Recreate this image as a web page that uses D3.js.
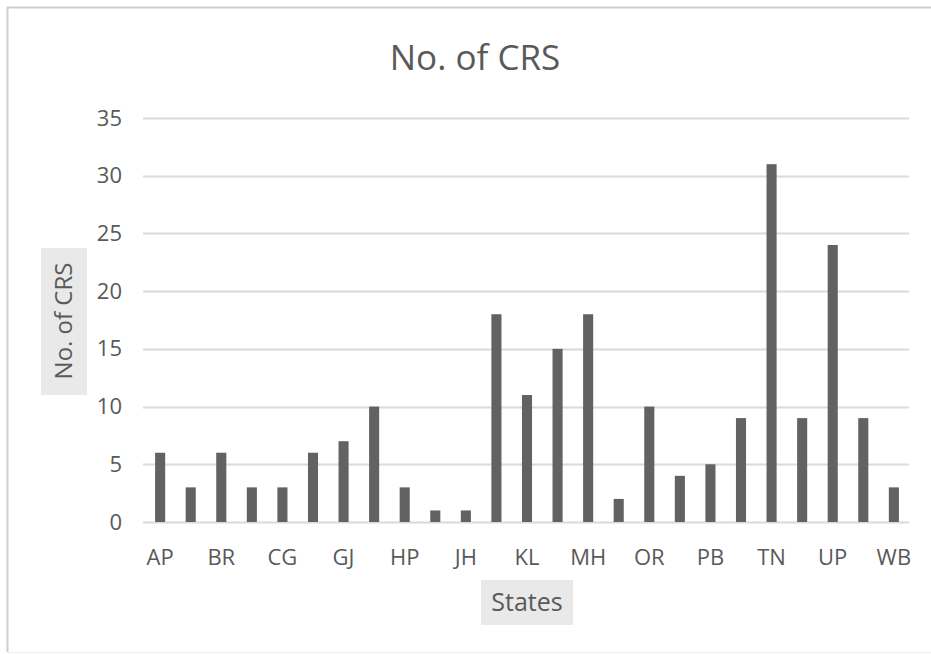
<!DOCTYPE html>
<html>
<head>
<meta charset="utf-8">
<script src="https://cdn.jsdelivr.net/npm/d3@7"></script>
<style>
  body { margin: 0; background: #fff; }
  svg text { font-family: "Open Sans", sans-serif; fill: #595959; }
</style>
</head>
<body>
<div id="chart"></div>
<script>
// States on the x axis (every other one gets a tick label)
var states = ["AP", "AS", "BR", "CH", "CG", "DL", "GJ", "HR", "HP", "JK", "JH", "KA", "KL",
  "MP", "MH", "MN", "OR", "PY", "PB", "RJ", "TN", "TS", "UP", "UK", "WB"];
var crsCounts = [6, 3, 6, 3, 3, 6, 7, 10, 3, 1, 1, 18, 11, 15, 18, 2, 10, 4, 5, 9, 31, 9, 24, 9, 3];
var yTicks = [0, 5, 10, 15, 20, 25, 30, 35];

var width = 931,
  height = 654,
  margin = { top: 118, right: 22, bottom: 132, left: 145 },
  plotW = width - margin.left - margin.right,
  plotH = height - margin.top - margin.bottom;

var svg = d3.select("#chart").append("svg")
  .attr("width", width)
  .attr("height", height);

// frame of the pasted chart
svg.append("line").attr("x1", 7).attr("x2", 931).attr("y1", 7.5).attr("y2", 7.5)
  .style("stroke", "#cfcfcf").style("stroke-width", 2);
svg.append("line").attr("x1", 7.5).attr("x2", 7.5).attr("y1", 7).attr("y2", 652)
  .style("stroke", "#cfcfcf").style("stroke-width", 2);
svg.append("line").attr("x1", 7).attr("x2", 931).attr("y1", 652.5).attr("y2", 652.5)
  .style("stroke", "#eeeeee");

var x = d3.scaleBand().domain(states).range([0, plotW]).paddingInner(0.67).paddingOuter(0.33),
  y = d3.scaleLinear().domain([0, 35]).range([plotH, 0]);

var g = svg.append("g")
  .attr("transform", "translate(" + margin.left + "," + margin.top + ")");

// gridlines
g.selectAll(".grid")
  .data(yTicks)
  .enter().append("line")
  .attr("class", "grid")
  .attr("x1", -2)
  .attr("x2", plotW)
  .attr("y1", function(d) { return Math.round(y(d)) + 0.5; })
  .attr("y2", function(d) { return Math.round(y(d)) + 0.5; })
  .style("stroke", "#dadada")
  .style("stroke-width", 2);

// y axis labels
var yAxis = d3.axisLeft(y).tickValues(yTicks).tickSize(0).tickPadding(23);
g.append("g").attr("class", "y axis").call(yAxis)
  .call(function(s) { s.select(".domain").remove(); })
  .selectAll("text").style("font-size", "22px").style("font-family", "'Open Sans', sans-serif");

// bars
g.selectAll(".bar")
  .data(crsCounts)
  .enter().append("rect")
  .attr("class", "bar")
  .attr("x", function(d, i) { return x(states[i]); })
  .attr("width", x.bandwidth())
  .attr("y", function(d) { return y(d); })
  .attr("height", function(d) { return plotH - y(d); })
  .style("fill", "#626262");

// x axis labels, every other state
var xAxis = d3.axisBottom(x)
  .tickValues(states.filter(function(d, i) { return i % 2 === 0; }))
  .tickSize(0).tickPadding(27);
g.append("g").attr("class", "x axis")
  .attr("transform", "translate(0," + plotH + ")")
  .call(xAxis)
  .call(function(s) { s.select(".domain").remove(); })
  .selectAll("text").style("font-size", "22px").style("font-family", "'Open Sans', sans-serif");

// title
svg.append("text")
  .attr("x", 475)
  .attr("y", 70)
  .attr("text-anchor", "middle")
  .style("font-size", "35px")
  .text("No. of CRS");

// y axis title with grey box
svg.append("rect")
  .attr("x", 41).attr("y", 248).attr("width", 46).attr("height", 147)
  .style("fill", "#e9e9e9");
svg.append("text")
  .attr("transform", "translate(72,321) rotate(-90)")
  .attr("text-anchor", "middle")
  .style("font-size", "24px")
  .text("No. of CRS");

// x axis title with grey box
svg.append("rect")
  .attr("x", 481).attr("y", 580).attr("width", 92).attr("height", 45)
  .style("fill", "#e9e9e9");
svg.append("text")
  .attr("x", 527)
  .attr("y", 611)
  .attr("text-anchor", "middle")
  .style("font-size", "25px")
  .text("States");
</script>
</body>
</html>
